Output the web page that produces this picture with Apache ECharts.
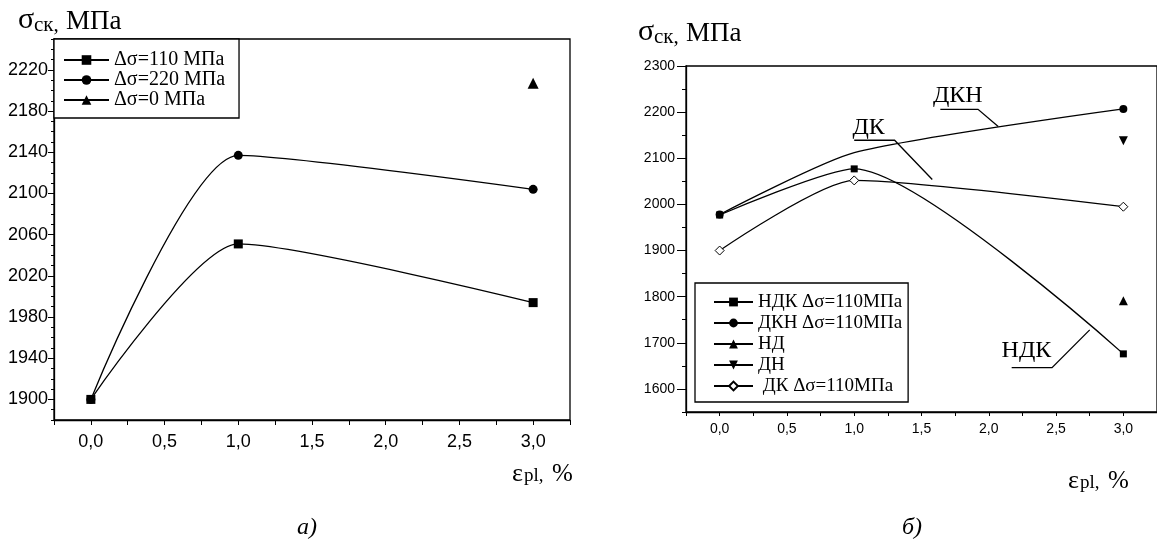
<!DOCTYPE html>
<html>
<head>
<meta charset="utf-8">
<script src="https://cdn.jsdelivr.net/npm/echarts@6/dist/echarts.min.js"></script>
<style>
  html, body { margin: 0; padding: 0; background: #fff; }
  #main { width: 1157px; height: 545px; }
</style>
</head>
<body>
<div id="main"></div>
<script>
// а) деформация, %  и  напряжение, МПа
const strainA = [0, 1, 3];
const stressA110 = [1900, 2051, 1994];
const stressA220 = [1900, 2137, 2104];
const strainA0 = [3];
const stressA0 = [2207];

// б)
const strainB = [0, 1, 3];
const stressNDK = [1977, 2077, 1676];
const stressDKN = [1978, 2112, 2207];
const stressDK = [1900, 2052, 1995];
const strainB3 = [3];
const stressND = [1791];
const stressDN = [2138];

// подписи осей
const xTickLabels = [0, 0.5, 1, 1.5, 2, 2.5, 3];
const yTickLabelsA = [1900, 1940, 1980, 2020, 2060, 2100, 2140, 2180, 2220];
const yTickLabelsB = [1600, 1700, 1800, 1900, 2000, 2100, 2200, 2300];

const pairs = (xs, ys) => xs.map((x, i) => [x, ys[i]]);
const serif = '"Liberation Serif", "Times New Roman", serif';
const sans = '"Liberation Sans", Arial, sans-serif';
const fmtX = (v) => v.toFixed(1).replace('.', ',');
const fmtY = (v) => String(Math.round(v));

const chart = echarts.init(document.getElementById('main'));

function lineSeries(name, data, symbol, size, xi, yi, extra) {
  return Object.assign({
    name: name,
    type: 'line',
    xAxisIndex: xi,
    yAxisIndex: yi,
    data: data,
    smooth: 0.22,
    symbol: symbol,
    symbolSize: size,
    showAllSymbol: true,
    lineStyle: { color: '#000', width: 1.3 },
    itemStyle: { color: '#000' },
    z: 5
  }, extra || {});
}

const dknData = pairs(strainB, stressDKN).map((p, i) => i === 1 ? { value: p, symbol: 'none' } : p);

function yAxisMain(grid, min, max, interval, ticks, len, size, margin) {
  return {
    type: 'value', gridIndex: grid, min: min, max: max, interval: interval, position: 'left',
    axisLine: { show: true, onZero: false, lineStyle: { color: '#000', width: 1.3 } },
    axisTick: { customValues: ticks, length: len, lineStyle: { color: '#000' } },
    axisLabel: { customValues: ticks, formatter: fmtY, color: '#000', fontFamily: sans, fontSize: size, margin: margin },
    splitLine: { show: false }
  };
}

function yAxisMinor(grid, min, max, interval, len) {
  return {
    type: 'value', gridIndex: grid, min: min, max: max, interval: interval, position: 'left',
    axisLine: { show: false, onZero: false },
    axisTick: { show: true, length: len, lineStyle: { color: '#000' } },
    axisLabel: { show: false },
    splitLine: { show: false }
  };
}

function xAxisMain(grid, len, size, margin) {
  return {
    type: 'value', gridIndex: grid, min: -0.25, max: 3.25, interval: 0.25, position: 'bottom',
    axisLine: { onZero: false, lineStyle: { color: '#000', width: 1.3 } },
    axisTick: { length: len, lineStyle: { color: '#000' } },
    axisLabel: { customValues: xTickLabels, formatter: fmtX, color: '#000', fontFamily: sans, fontSize: size, margin: margin },
    splitLine: { show: false }
  };
}

const option = {
  animation: false,
  backgroundColor: '#fff',
  grid: [
    { left: 54, top: 39, width: 516, height: 381, show: true, borderColor: '#000', borderWidth: 1.3 },
    { left: 686, top: 66, width: 474, height: 346, show: true, borderColor: '#000', borderWidth: 1.3 }
  ],
  xAxis: [
    xAxisMain(0, 5, 18, 13),
    xAxisMain(1, 4, 14, 10)
  ],
  yAxis: [
    yAxisMain(0, 1880, 2250, 10, yTickLabelsA, 6, 18, 6),
    yAxisMinor(0, 1880, 2250, 10, 3),
    yAxisMain(1, 1550, 2300, 50, yTickLabelsB, 9, 14, 11),
    yAxisMinor(1, 1550, 2300, 50, 4)
  ],
  legend: [
    {
      data: ['Δσ=110 МПа', 'Δσ=220 МПа', 'Δσ=0 МПа'],
      orient: 'vertical', left: 54, top: 39,
      padding: [11, 14, 8, 9], itemGap: 0, itemWidth: 45, itemHeight: 12,
      borderColor: '#000', borderWidth: 1.3, backgroundColor: '#fff',
      selectedMode: false,
      textStyle: { fontFamily: serif, fontSize: 20, lineHeight: 19, color: '#000' }
    },
    {
      data: ['НДК Δσ=110МПа', 'ДКН Δσ=110МПа', 'НД', 'ДН', ' ДК Δσ=110МПа'],
      orient: 'vertical', left: 695, top: 283,
      padding: [9, 6, 6, 18], itemGap: 1, itemWidth: 39, itemHeight: 11,
      borderColor: '#000', borderWidth: 1.3, backgroundColor: '#fff',
      selectedMode: false,
      textStyle: { fontFamily: serif, fontSize: 19, lineHeight: 20, color: '#000' }
    }
  ],
  series: [
    lineSeries('Δσ=110 МПа', pairs(strainA, stressA110), 'rect', 9, 0, 0),
    lineSeries('Δσ=220 МПа', pairs(strainA, stressA220), 'circle', 9, 0, 0),
    lineSeries('Δσ=0 МПа', pairs(strainA0, stressA0), 'triangle', 11, 0, 0),
    lineSeries('НДК Δσ=110МПа', pairs(strainB, stressNDK), 'rect', 7, 1, 2),
    lineSeries('ДКН Δσ=110МПа', dknData, 'circle', 8, 1, 2),
    lineSeries('НД', pairs(strainB3, stressND), 'triangle', 9, 1, 2),
    lineSeries('ДН', pairs(strainB3, stressDN), 'triangle', 9, 1, 2, { symbolRotate: 180 }),
    lineSeries(' ДК Δσ=110МПа', pairs(strainB, stressDK), 'diamond', 9, 1, 2, {
      itemStyle: { color: '#fff', borderColor: '#000', borderWidth: 1 }
    })
  ]
};

chart.setOption(option);

function txt(x, y, text, size, style) {
  return {
    type: 'text', x: x, y: y, z: 10,
    style: Object.assign({
      text: text, font: size + 'px ' + serif, fill: '#000',
      align: 'left', verticalAlign: 'middle', textAlign: 'left', textVerticalAlign: 'middle'
    }, style || {})
  };
}

function axisTitleY(x, y) {
  return [
    txt(x, y - 2, 'σ', 30),
    txt(x + 16, y + 3, 'ск,', 21),
    txt(x + 48, y, 'МПа', 27)
  ];
}

function axisTitleX(x, y) {
  return [
    txt(x, y, 'ε', 26),
    txt(x + 12, y + 2, 'pl,', 19),
    txt(x + 40, y, '%', 25)
  ];
}

// выноски на графике б)
const px = (x, y) => chart.convertToPixel({ xAxisIndex: 1, yAxisIndex: 2 }, [x, y]);
function leader(label, textAt, pts) {
  const t = px(textAt[0], textAt[1]);
  return [
    txt(t[0], t[1], label, 24, { align: 'center', textAlign: 'center' }),
    {
      type: 'polyline', z: 10,
      shape: { points: pts.map((p) => px(p[0], p[1])) },
      style: { stroke: '#000', lineWidth: 1.3, fill: null }
    }
  ];
}

chart.setOption({
  graphic: [].concat(
    axisTitleY(18, 22),
    axisTitleY(638, 34),
    axisTitleX(512, 474),
    axisTitleX(1068, 481),
    [txt(297, 528, 'а)', 24, { font: 'italic 24px ' + serif }),
     txt(902, 528, 'б)', 24, { font: 'italic 24px ' + serif })],
    leader('ДКН', [1.77, 2236], [[1.64, 2206], [1.92, 2206], [2.07, 2169]]),
    leader('ДК', [1.107, 2167], [[1.0, 2139], [1.30, 2139], [1.58, 2054]]),
    leader('НДК', [2.28, 1683], [[2.17, 1646], [2.47, 1646], [2.75, 1728]])
  )
});
</script>
</body>
</html>
